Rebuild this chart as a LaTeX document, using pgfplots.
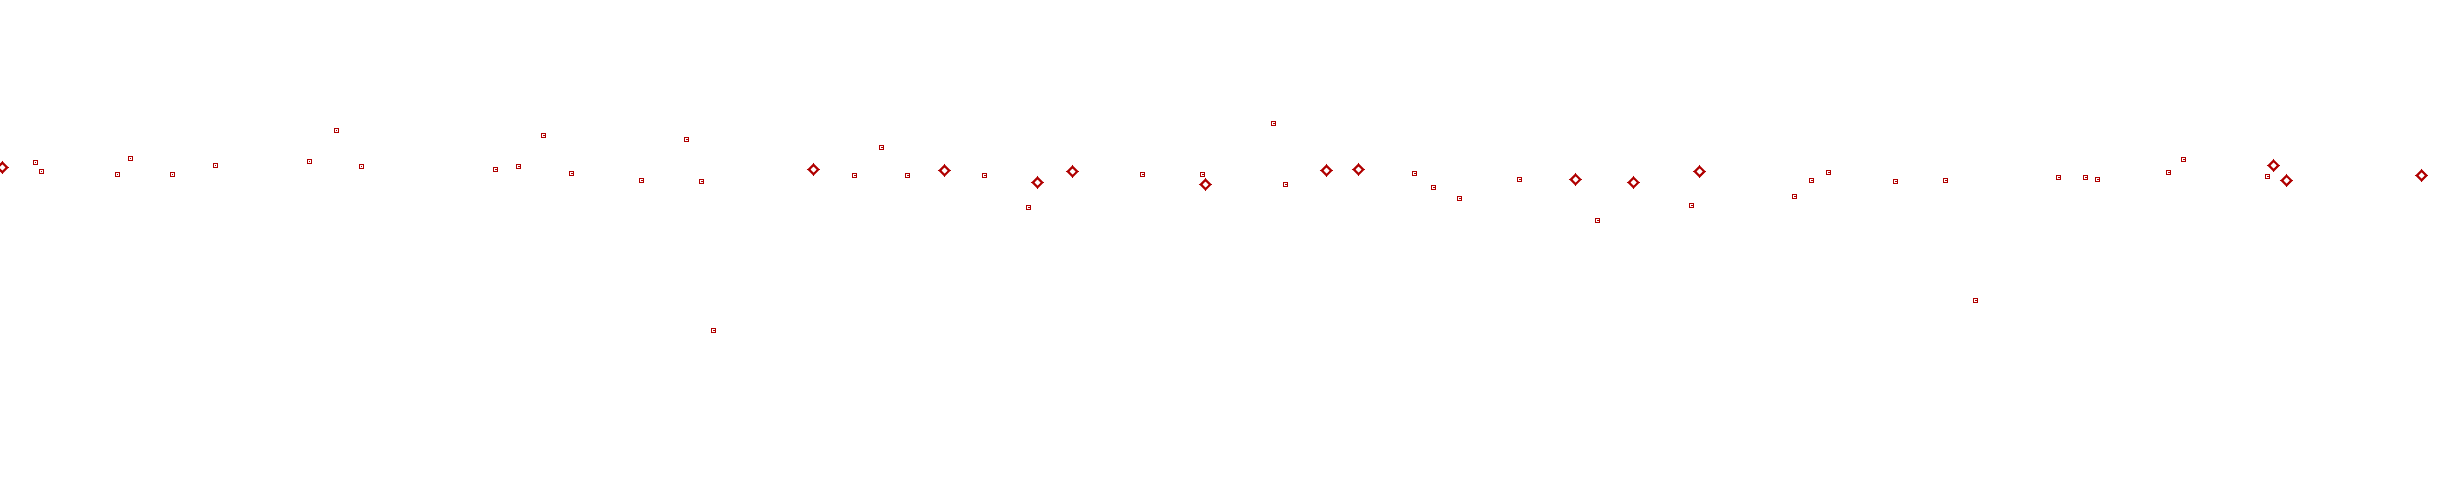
\documentclass[border=0pt]{standalone}
\usepackage{pgfplots}
\usepackage{pgfplotstable}
\pgfplotsset{compat=1.18}
\definecolor{mred}{RGB}{176,0,0}
\pgfplotstableread{
x y
35.5 162.5
41.5 171.5
117.5 174.5
130.5 158.5
172.5 174.5
215.5 165.5
309.5 161.5
336.5 130.5
361.5 166.5
495.5 169.5
518.5 166.5
543.5 135.5
571.5 173.5
641.5 180.5
686.5 139.5
701.5 181.5
713.5 330.5
854.5 175.5
881.5 147.5
907.5 175.5
984.5 175.5
1028.5 207.5
1142.5 174.5
1202.5 174.5
1273.5 123.5
1285.5 184.5
1414.5 173.5
1433.5 187.5
1459.5 198.5
1519.5 179.5
1597.5 220.5
1691.5 205.5
1794.5 196.5
1811.5 180.5
1828.5 172.5
1895.5 181.5
1945.5 180.5
1975.5 300.5
2058.5 177.5
2085.5 177.5
2097.5 179.5
2168.5 172.5
2183.5 159.5
2267.5 176.5
}\squares
\pgfplotstableread{
x y
2.3 167.5
813.5 169.5
944.5 170.5
1037.5 182.5
1072.5 171.5
1205.5 184.5
1326.5 170.5
1358.5 169.5
1575.5 179.5
1633.5 182.5
1699.5 171.5
2273.5 165.5
2286.5 180.5
2421.5 175.5
}\diamonds
\begin{document}
\begin{tikzpicture}
\begin{axis}[
  width=24.43cm, height=5cm, scale only axis,
  xmin=0, xmax=2443, ymin=0, ymax=500, y dir=reverse,
  hide axis, clip=false,
]
\addplot[only marks, mark=square, mark size=0.6pt, mark options={draw=mred, line width=0.3pt}] table[x=x,y=y] {\squares};
\addplot[only marks, mark=*, mark size=0.14pt, mark options={draw=mred, fill=mred, line width=0pt}] table[x=x,y=y] {\squares};
\addplot[only marks, mark=+, mark size=1.95pt, mark options={draw=mred, line width=0.35pt}] table[x=x,y=y] {\diamonds};
\addplot[only marks, mark=square*, mark size=0.95pt, mark options={draw=mred, fill=white, line width=0.6pt, rotate=45}] table[x=x,y=y] {\diamonds};
\end{axis}
\pgfresetboundingbox
\useasboundingbox (current axis.south west) rectangle (current axis.north east);
\end{tikzpicture}
\end{document}
